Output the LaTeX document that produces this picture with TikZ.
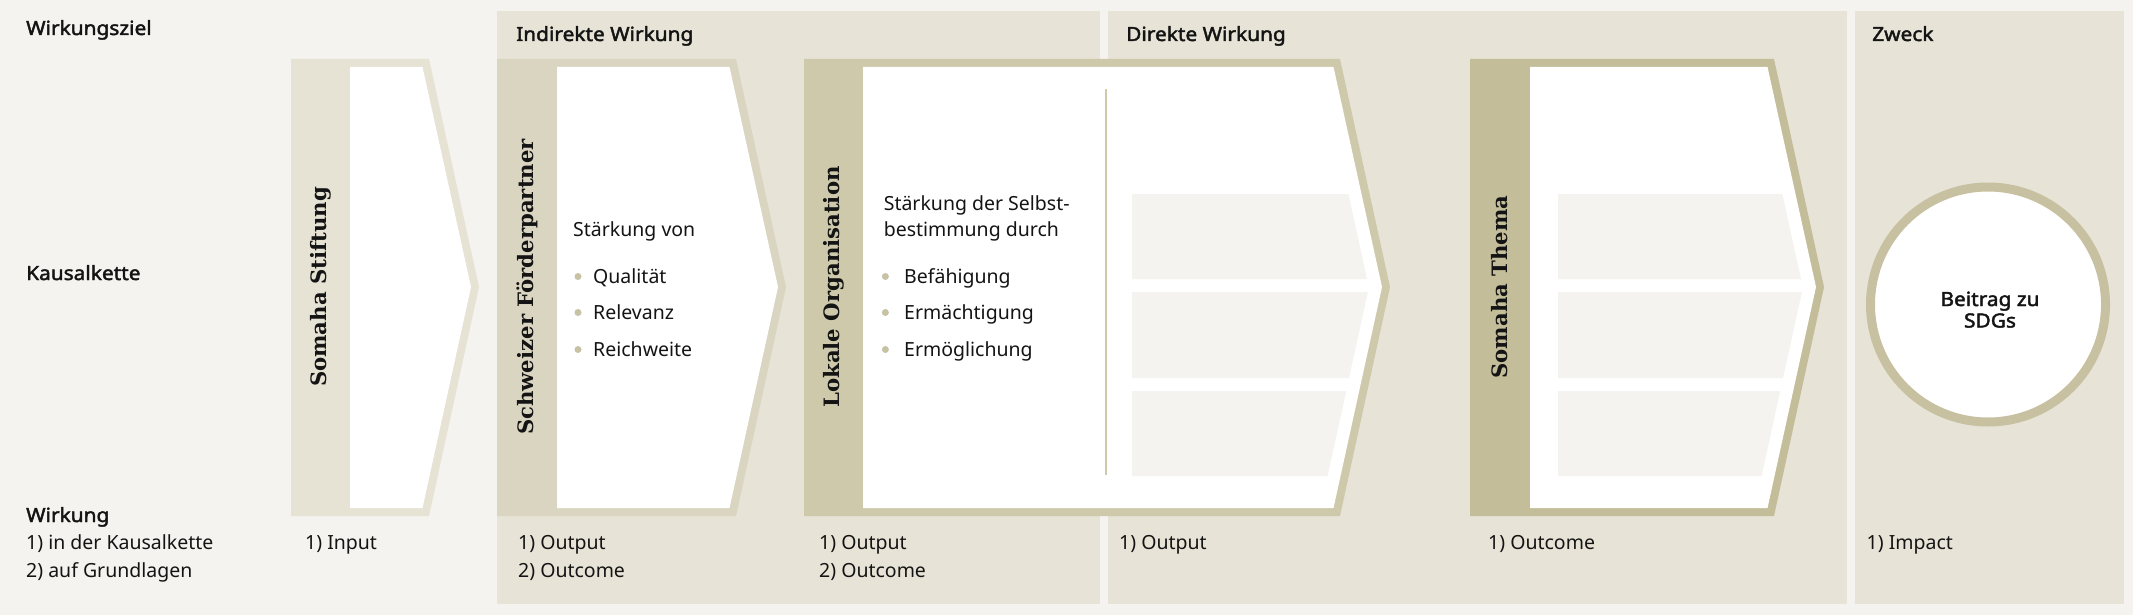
\documentclass[tikz,border=0pt]{standalone}
\usepackage{fontspec}
\setmainfont{Noto Sans}[AutoFakeBold=2.2]
\newfontfamily\stripefont{DejaVu Serif}
\usepackage{tikz}
\definecolor{paper}{HTML}{F4F3EF}
\definecolor{panel}{HTML}{E7E3D6}
\definecolor{sandA}{HTML}{E6E2D4}
\definecolor{sandB}{HTML}{DAD5C1}
\definecolor{sandC}{HTML}{CEC9AA}
\definecolor{sandD}{HTML}{C3BD99}
\definecolor{ring}{HTML}{C7C1A1}
\definecolor{dotcolor}{HTML}{C8C2A4}
\definecolor{ink}{HTML}{141414}

\begin{document}
\begin{tikzpicture}[x=1pt, y=-1pt,
		txt/.style={anchor=base west, inner sep=0pt, text=ink, font=\fontsize{19.5}{24}\selectfont},
		head/.style={txt, font=\fontsize{19.5}{24}\selectfont\bfseries\addfontfeature{FakeStretch=1.07}},
		actor/.style={rotate=90, inner sep=0pt, text=ink, font=\fontsize{21.2}{24}\stripefont\bfseries}]
		\useasboundingbox (0,0) rectangle (2133,615);
		% paper
		\fill[paper] (0,0) rectangle (2133,615);
		% panels
		\fill[panel] (497,11) rectangle (1100,604);
		\fill[panel] (1108,11) rectangle (1847,604);
		\fill[panel] (1855,11) rectangle (2124,604);
		% somaha stiftung
		\fill[sandA] (291,59) -- (429,59) -- (479,287) -- (429,516) -- (291,516) -- cycle;
		\fill[white] (350,67) -- (422.5,67) -- (471,287) -- (422.5,508) -- (350,508) -- cycle;
		% schweizer foerderpartner
		\fill[sandB] (497,59) -- (736,59) -- (786,287) -- (736,516) -- (497,516) -- cycle;
		\fill[white] (557,67) -- (729.5,67) -- (778,287) -- (729.5,508) -- (557,508) -- cycle;
		% lokale organisation
		\fill[sandC] (804,59) -- (1340,59) -- (1390,287) -- (1340,516) -- (804,516) -- cycle;
		\fill[white] (863,67) -- (1333.5,67) -- (1382,287) -- (1333.5,508) -- (863,508) -- cycle;
		\draw[sandC, line width=1.5] (1106,89) -- (1106,475);
		\fill[paper] (1132,194) -- (1348.4,194) -- (1367,279) -- (1132,279) -- cycle;
		\fill[paper] (1132,292) -- (1367.9,292) -- (1349,378) -- (1132,378) -- cycle;
		\fill[paper] (1132,391) -- (1346.2,391) -- (1327.6,476) -- (1132,476) -- cycle;
		% somaha thema
		\fill[sandD] (1470,59) -- (1774,59) -- (1824,287) -- (1774,516) -- (1470,516) -- cycle;
		\fill[white] (1530,67) -- (1767.5,67) -- (1816,287) -- (1767.5,508) -- (1530,508) -- cycle;
		\fill[paper] (1558,194) -- (1782.3,194) -- (1801,279) -- (1558,279) -- cycle;
		\fill[paper] (1558,292) -- (1801.9,292) -- (1783,378) -- (1558,378) -- cycle;
		\fill[paper] (1558,391) -- (1780.2,391) -- (1761.6,476) -- (1558,476) -- cycle;
		% zweck
		\draw[ring, line width=9, fill=white] (1988,304.5) circle (117.5);

		% row labels
		\node[head] (ziel) at (26,35) {Wirkungsziel};
		\node[head] (kette) at (26,280) {Kausalkette};
		\node[head] (wirkung) at (26,522) {Wirkung};
		\node[txt] (wirkungA) at ([yshift=-27.5pt]wirkung.base west) {1) in der Kausalkette};
		\node[txt] (wirkungB) at ([yshift=-27.5pt]wirkungA.base west) {2) auf Grundlagen};
		% panel titles
		\node[head] (indirekt) at (516,41) {Indirekte Wirkung};
		\node[head] (direkt) at (1126,41) {Direkte Wirkung};
		\node[head] (zweck) at (1872,41) {Zweck};
		% actors
		\node[actor] (stiftung) at (320.5,287) {Somaha Stiftung};
		\node[actor] (partner) at (527,287) {Schweizer Förderpartner};
		\node[actor] (lokal) at (833.5,287) {Lokale Organisation};
		\node[actor] (thema) at (1500,287) {Somaha Thema};
		% schweizer text
		\node[txt] (partnerText) at (573,236) {Stärkung von};
		\fill[dotcolor] (578,276.5) circle (3.5);
		\node[txt] (qualitaet) at (593,283) {Qualität};
		\fill[dotcolor] (578,312.5) circle (3.5);
		\node[txt] (relevanz) at (593,319) {Relevanz};
		\fill[dotcolor] (578,349.5) circle (3.5);
		\node[txt] (reichweite) at (593,356) {Reichweite};
		% lokale text
		\node[txt] (lokalText) at (883.6,210) {Stärkung der Selbst-};
		\node[txt] (lokalTextB) at ([yshift=-26.5pt]lokalText.base west) {bestimmung durch};
		\fill[dotcolor] (885.4,276.5) circle (3.5);
		\node[txt] (befaehigung) at (904,283) {Befähigung};
		\fill[dotcolor] (885.4,312.5) circle (3.5);
		\node[txt] (ermaechtigung) at (904,319) {Ermächtigung};
		\fill[dotcolor] (885.4,349.5) circle (3.5);
		\node[txt] (ermoeglichung) at (904,356) {Ermöglichung};
		% circle text
		\node[head, anchor=base] (beitrag) at (1990,306) {Beitrag zu};
		\node[head, anchor=base] (sdgs) at ([yshift=-21.5pt]beitrag.base) {SDGs};
		% wirkung labels
		\node[txt] (input) at (305,549.5) {1) Input};
		\node[txt] (partnerOut) at (518,549.5) {1) Output};
		\node[txt] (partnerOutc) at ([yshift=-27.5pt]partnerOut.base west) {2) Outcome};
		\node[txt] (lokalOut) at (819,549.5) {1) Output};
		\node[txt] (lokalOutc) at ([yshift=-27.5pt]lokalOut.base west) {2) Outcome};
		\node[txt] (direktOut) at (1119,549.5) {1) Output};
		\node[txt] (themaOut) at (1488,549.5) {1) Outcome};
		\node[txt] (impact) at (1866.5,549.5) {1) Impact};
	\end{tikzpicture}
\end{document}
